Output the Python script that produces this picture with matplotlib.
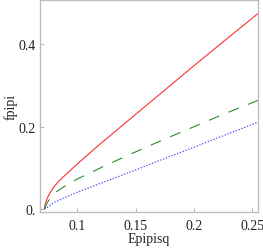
import matplotlib.pyplot as plt

# values
x_red = [0.0718, 0.0722, 0.073, 0.0745, 0.0765, 0.079, 0.0835, 0.09, 0.1, 0.11, 0.12, 0.15, 0.175, 0.2, 0.225, 0.255]
y_red = [0.0, 0.009, 0.017, 0.028, 0.039, 0.050, 0.066, 0.0835, 0.1095, 0.1345, 0.159, 0.230, 0.289, 0.348, 0.406, 0.475]

x_green = [0.0718, 0.073, 0.075, 0.078, 0.082, 0.09, 0.1, 0.125, 0.15, 0.175, 0.2, 0.225, 0.255]
y_green = [0.0, 0.009, 0.019, 0.030, 0.042, 0.057, 0.073, 0.107, 0.139, 0.170, 0.200, 0.230, 0.264]

x_blue = [0.0718, 0.08, 0.09, 0.1, 0.125, 0.15, 0.175, 0.2, 0.225, 0.255]
y_blue = [0.0, 0.016, 0.029, 0.041, 0.068, 0.095, 0.123, 0.150, 0.178, 0.211]

xticks = [0.1, 0.15, 0.2, 0.25]
xlabels = ["0.1", "0.15", "0.2", "0.25"]
yticks = [0.0, 0.2, 0.4]
ylabels = ["0.", "0.2", "0.4"]

plt.rcParams['font.family'] = ['Liberation Serif', 'DejaVu Serif']

fig = plt.figure(figsize=(2.63, 2.51), dpi=100)
ax = fig.add_axes([0.152, 0.151, 0.829, 0.847])

ax.plot(x_red, y_red, color='#ff3030', lw=0.8)
ax.plot(x_green, y_green, color='#2e8b2e', lw=0.8, dashes=(10, 9))
ax.plot(x_blue, y_blue, color='#4040ff', lw=0.8, dashes=(1.2, 1.5))

ax.set_xlim(0.068, 0.255)
ax.set_ylim(-0.0073, 0.509)

ax.set_xticks(xticks)
ax.set_xticklabels(xlabels)
ax.set_yticks(yticks)
ax.set_yticklabels(ylabels)

for s in ax.spines.values():
    s.set_color('#bdbdbd')
    s.set_linewidth(1.0)
ax.tick_params(which='major', direction='in', length=3, width=0.6, color='#a8a8a8',
               labelsize=10, labelcolor='#222222', pad=3)
ax.tick_params(axis='x', pad=5)

ax.set_xlabel('Epipisq', fontsize=10, color='#222222', labelpad=0)
ax.set_ylabel('fpipi', fontsize=10, color='#222222', labelpad=1)

fig.savefig('out.png', dpi=100)
